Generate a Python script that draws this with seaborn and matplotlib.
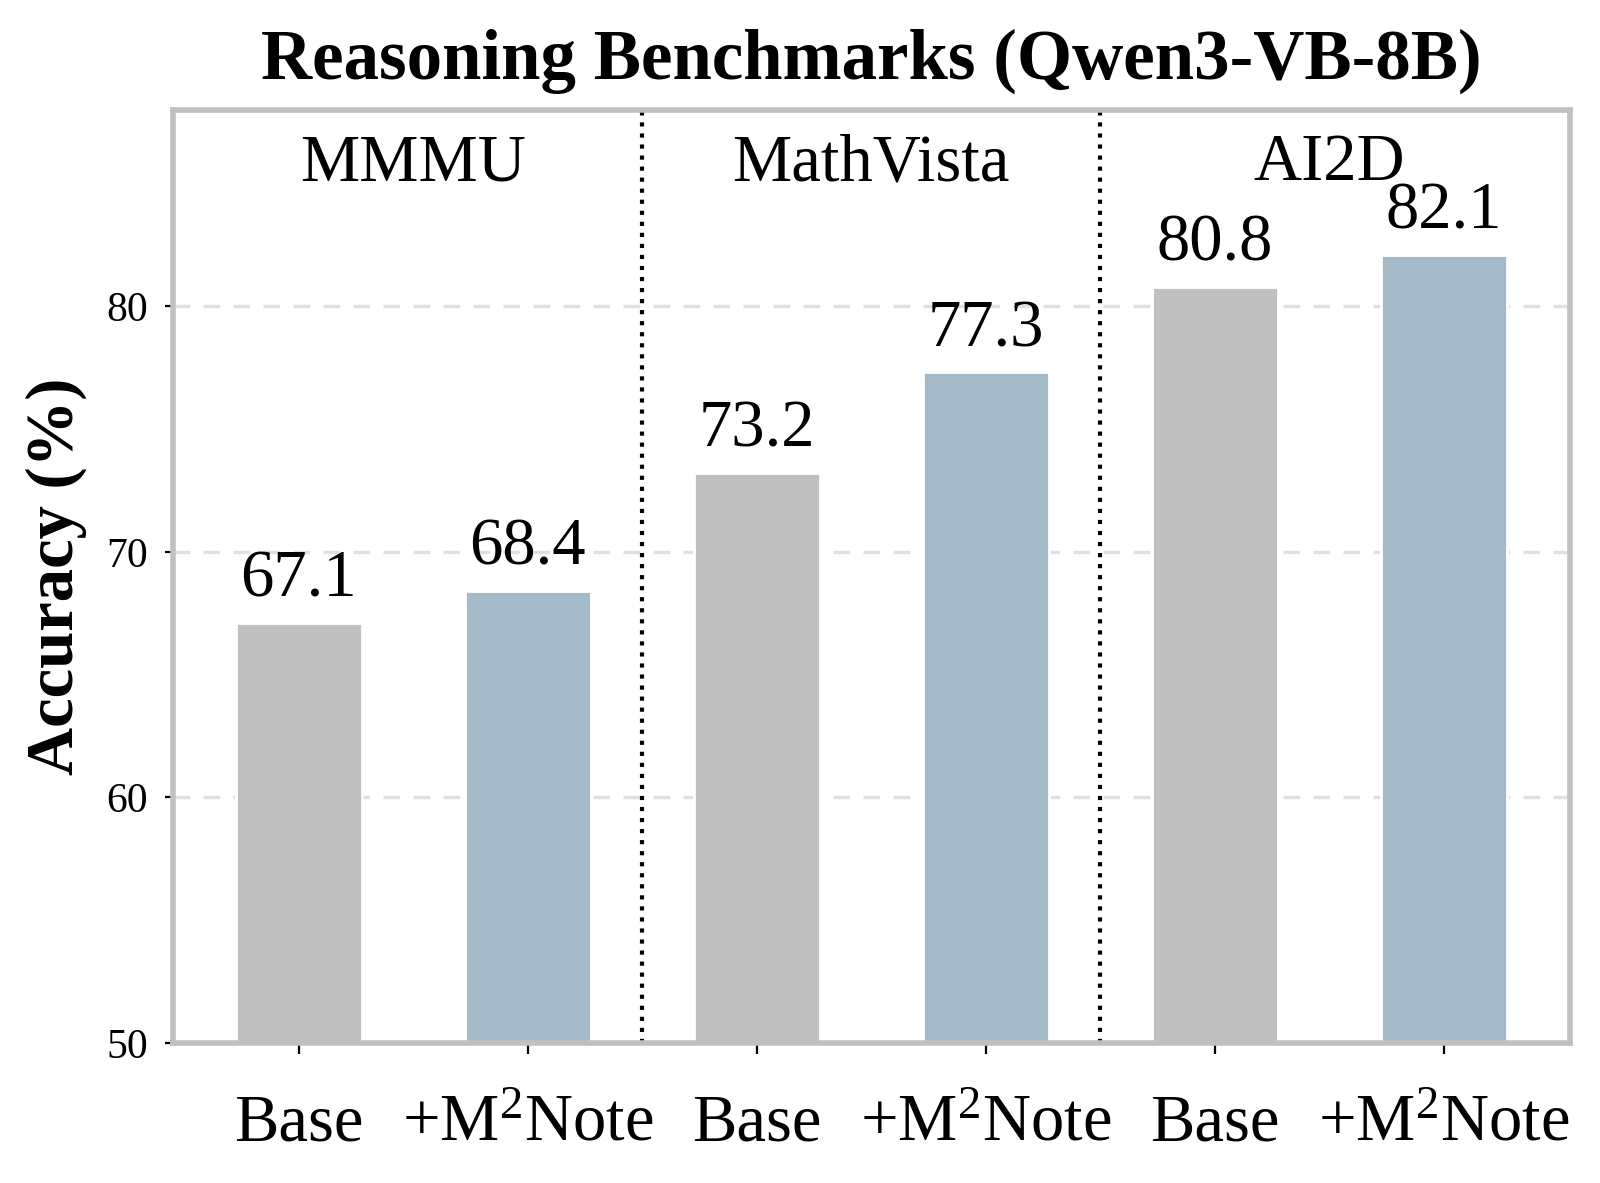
import seaborn as sns
import pandas as pd
import matplotlib.pyplot as plt

benchmarks = ["MMMU", "MathVista", "AI2D"]
methods = ["Base", "+M$^{2}$Note"]
base_acc = [67.1, 73.2, 80.8]
note_acc = [68.4, 77.3, 82.1]

rows = []
for b, v0, v1 in zip(benchmarks, base_acc, note_acc):
    rows.append({"key": f"{b}|Base", "benchmark": b, "method": methods[0], "acc": v0})
    rows.append({"key": f"{b}|Note", "benchmark": b, "method": methods[1], "acc": v1})
df = pd.DataFrame(rows)

sns.set_style("white")
plt.rcParams["font.family"] = ["Liberation Serif", "DejaVu Serif"]
plt.rcParams["mathtext.fontset"] = "custom"
plt.rcParams["mathtext.rm"] = "Liberation Serif"
plt.rcParams["mathtext.it"] = "Liberation Serif:italic"
plt.rcParams["mathtext.bf"] = "Liberation Serif:bold"
plt.rcParams["text.color"] = "black"
plt.rcParams["axes.labelcolor"] = "black"
plt.rcParams["xtick.color"] = "black"
plt.rcParams["ytick.color"] = "black"

fig = plt.figure(figsize=(8, 5.915), dpi=200)
ax = fig.add_axes([0.108, 0.1183, 0.873, 0.789])

palette = {methods[0]: "#c0c0c0", methods[1]: "#a5bac8"}
sns.barplot(data=df, x="key", y="acc", hue="method", palette=palette,
            dodge=False, width=0.55, saturation=1, legend=False, ax=ax)

ax.set_ylim(50, 88)
ax.set_xlim(-0.55, 5.55)
ax.set_yticks([50, 60, 70, 80])
ax.set_xticks(range(len(df)))
ax.set_xticklabels(df["method"], fontsize=24)
ax.tick_params(axis="x", bottom=True, length=4, width=0.8, color="black", pad=14)
ax.tick_params(axis="y", left=True, length=3, width=0.8, color="black", labelsize=15, pad=6)
ax.yaxis.grid(True, linestyle=(0, (5, 4)), color="#e0e0e0", linewidth=1.2)
ax.set_axisbelow(True)

for s in ax.spines.values():
    s.set_color("#c0c0c0")
    s.set_linewidth(2)

for x in [1.5, 3.5]:
    ax.axvline(x, color="black", linestyle=":", linewidth=1.5)

for i, v in enumerate(df["acc"]):
    ax.text(i, v + 0.5, f"{v:.1f}", ha="center", va="bottom", fontsize=24)

for j, b in enumerate(benchmarks):
    ax.text(2 * j + 0.5, 85.8, b, ha="center", va="center", fontsize=24)

ax.set_xlabel("")
ax.set_ylabel("Accuracy (%)", fontsize=24, fontweight="bold", labelpad=7)
ax.set_title("Reasoning Benchmarks (Qwen3-VB-8B)", fontsize=25.5, fontweight="bold", pad=11)

fig.savefig("out.png", dpi=200)
